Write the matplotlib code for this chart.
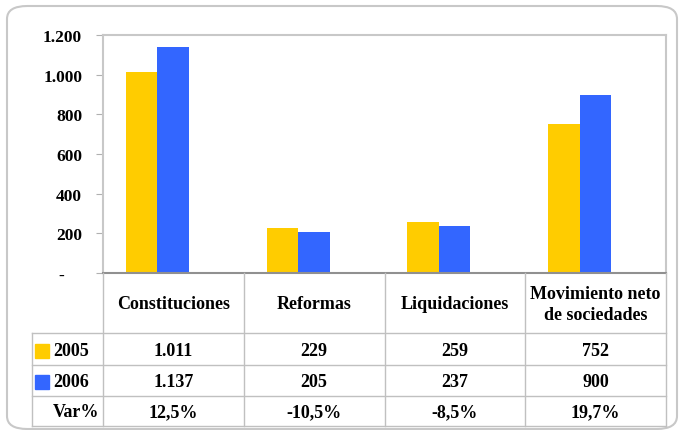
import matplotlib
matplotlib.use('Agg')
import matplotlib.pyplot as plt
from matplotlib.patches import FancyBboxPatch

plt.rcParams['font.family'] = ['Liberation Serif', 'DejaVu Serif']
plt.rcParams['font.weight'] = 'bold'

categories = ['Constituciones', 'Reformas', 'Liquidaciones', 'Movimiento neto\nde sociedades']
years = ['2005', '2006']
vals_2005 = [1011, 229, 259, 752]
vals_2006 = [1137, 205, 237, 900]
var_pct = ['12,5%', '-10,5%', '-8,5%', '19,7%']
yticks = [0, 200, 400, 600, 800, 1000, 1200]
ytick_labels = ['-    ', '200', '400', '600', '800', '1.000', '1.200']
colors = ['#FFCC00', '#3366FF']

W, H = 679, 431
fig = plt.figure(figsize=(W / 100, H / 100), dpi=100)

# outer rounded frame
frame = FancyBboxPatch((7 / W, 1 / H), 670 / W, 423 / H,
                       boxstyle='round,pad=0,rounding_size=0.03',
                       transform=fig.transFigure, fc='white', ec='#c8c8c8', lw=1.5,
                       zorder=-5)
fig.patches.append(frame)

# chart area
left, right, top, bottom = 103, 666, 36, 274
ax = fig.add_axes([left / W, 1 - bottom / H, (right - left) / W, (bottom - top) / H])
ax.patch.set_alpha(0)
x = list(range(len(categories)))
bw = 0.224
off = -0.114
ax.bar([i + off - bw / 2 for i in x], vals_2005, width=bw, color=colors[0])
ax.bar([i + off + bw / 2 for i in x], vals_2006, width=bw, color=colors[1])
ax.set_xlim(-0.5, 3.5)
ax.set_ylim(0, 1200)
ax.set_xticks([])
ax.set_yticks(yticks)
ax.set_yticklabels(ytick_labels, fontsize=12.5, fontweight='bold')
ax.tick_params(axis='y', length=5, color='#b0b0b0', pad=10)
for s in ['top', 'right', 'left']:
    ax.spines[s].set_color('#c8c8c8')
    ax.spines[s].set_linewidth(1.5)
ax.spines['bottom'].set_color('#909090')
ax.spines['bottom'].set_linewidth(1.5)

# data table
tb_top, tb_bottom = 274, 427
axt = fig.add_axes([left / W, 1 - tb_bottom / H, (right - left) / W, (tb_bottom - tb_top) / H])
axt.set_xlim(-0.5, 3.5)
axt.set_ylim(153, 0)
axt.axis('off')
lab_x0 = -0.5 - 71 / 140.75
row_edges = [0, 60, 92, 123, 153]
lc = '#c0c0c0'
# horizontal lines
for y in row_edges[1:]:
    axt.plot([lab_x0, 3.5], [y, y], color=lc, lw=1, clip_on=False)
# vertical lines
axt.plot([lab_x0, lab_x0], [60, 153], color=lc, lw=1, clip_on=False)
for xv in [-0.5, 0.5, 1.5, 2.5, 3.5]:
    axt.plot([xv, xv], [0, 153], color=lc, lw=1, clip_on=False)

fs = 13
for i, c in enumerate(categories):
    axt.text(i, 31, c, ha='center', va='center', fontsize=fs, fontweight='bold',
             linespacing=1.3)
    axt.text(i, 78, f'{vals_2005[i]:,}'.replace(',', '.'), ha='center', va='center',
             fontsize=fs, fontweight='bold')
    axt.text(i, 109, f'{vals_2006[i]:,}'.replace(',', '.'), ha='center', va='center',
             fontsize=fs, fontweight='bold')
    axt.text(i, 139, var_pct[i], ha='center', va='center', fontsize=fs, fontweight='bold')

row_y = [78, 109]
sq_x = lab_x0 + 10.5 / 140.75
txt_x = lab_x0 + 21 / 140.75
for k in range(2):
    axt.plot([sq_x], [row_y[k]], marker='s', ms=9.5, color=colors[k], clip_on=False)
    axt.text(txt_x, row_y[k], years[k], ha='left', va='center', fontsize=fs,
             fontweight='bold', clip_on=False)
axt.text(txt_x, 139, 'Var%', ha='left', va='center', fontsize=fs, fontweight='bold',
         clip_on=False)

fig.savefig('out.png', dpi=100)
